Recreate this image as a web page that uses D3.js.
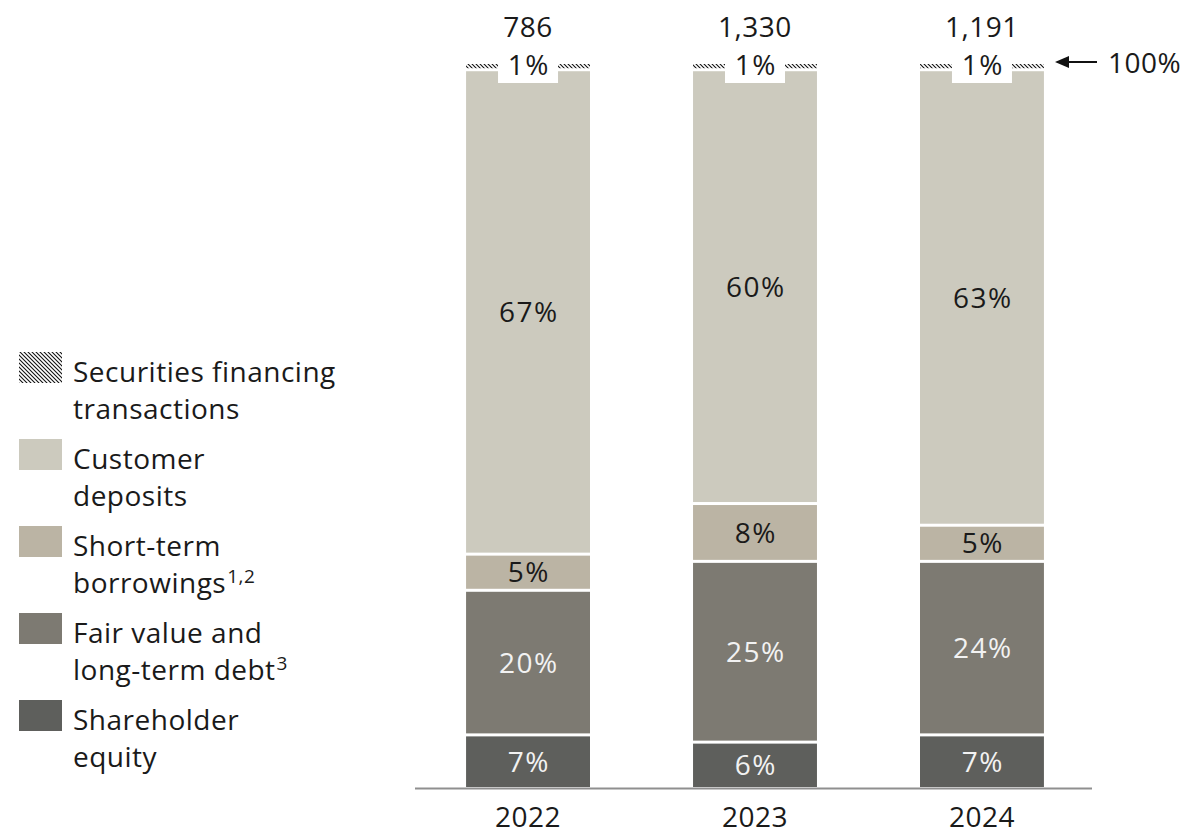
<!DOCTYPE html>
<html>
<head>
<meta charset="utf-8">
<script src="https://cdn.jsdelivr.net/npm/d3@7"></script>
<style>
  body { margin: 0; background: #fff; }
  svg { display: block; }
  text { font-family: "Open Sans", "Noto Sans", sans-serif; font-weight: 400; letter-spacing: 0.5px; }
  .pct { letter-spacing: 1.5px; }
</style>
</head>
<body>
<svg id="chart" width="1189" height="835"></svg>
<script>
// Funding sources as a share of total (%), stacked bottom to top
const years = ["2022", "2023", "2024"];
const totals = ["786", "1,330", "1,191"];
const shareholderEquity = [7, 6, 7];
const fairValueLongTermDebt = [20, 25, 24];
const shortTermBorrowings = [5, 8, 5];
const customerDeposits = [67, 60, 63];
const securitiesFinancing = [1, 1, 1];
const topMarkerLabel = "100%";

const keys = ["equity", "fairValue", "shortTerm", "deposits", "sft"];
const colors = {
  equity: "#5e5f5c",
  fairValue: "#7d7a72",
  shortTerm: "#bbb4a4",
  deposits: "#cccabe",
  sft: "url(#hatch)"
};
const labelColors = {
  equity: "#f2f2f2",
  fairValue: "#f2f2f2",
  shortTerm: "#1a1a1a",
  deposits: "#1a1a1a",
  sft: "#1a1a1a"
};

const legendItems = [
  { key: "sft", lines: ["Securities financing", "transactions"], sup: "" },
  { key: "deposits", lines: ["Customer", "deposits"], sup: "" },
  { key: "shortTerm", lines: ["Short-term", "borrowings"], sup: "1,2" },
  { key: "fairValue", lines: ["Fair value and", "long-term debt"], sup: "3" },
  { key: "equity", lines: ["Shareholder", "equity"], sup: "" }
];

const rows = years.map((year, i) => ({
  year,
  total: totals[i],
  equity: shareholderEquity[i],
  fairValue: fairValueLongTermDebt[i],
  shortTerm: shortTermBorrowings[i],
  deposits: customerDeposits[i],
  sft: securitiesFinancing[i]
}));

const svg = d3.select("#chart");
const fs = 28;
const capMid = fs * 0.36;
const gap = 3;

// Diagonal hatch for securities financing transactions
const defs = svg.append("defs");
const pat = defs.append("pattern")
  .attr("id", "hatch")
  .attr("patternUnits", "userSpaceOnUse")
  .attr("width", 4).attr("height", 4);
pat.append("rect").attr("width", 4).attr("height", 4).attr("fill", "#fff");
pat.append("path")
  .attr("d", "M-1,-1 L5,5 M-1,3 L1,5 M3,-1 L5,1")
  .attr("stroke", "#111").attr("stroke-width", 1.1);

const x = d3.scaleBand()
  .domain(years)
  .range([415, 1095])
  .paddingInner(0.454)
  .paddingOuter(0.225);

const y = d3.scaleLinear().domain([0, 100]).range([787, 64]);

const stacked = d3.stack().keys(keys)(rows);

// Bars
const layers = svg.append("g").selectAll("g")
  .data(stacked)
  .join("g")
  .attr("fill", d => colors[d.key]);

layers.selectAll("rect")
  .data(d => d.map(p => ({ key: d.key, p })))
  .join("rect")
  .attr("x", d => x(d.p.data.year))
  .attr("width", x.bandwidth())
  .attr("y", d => y(d.p[1]))
  .attr("height", d => {
    const bottom = d.p[0] === 0 ? y(d.p[0]) : y(d.p[0]) - gap;
    return Math.max(0, bottom - y(d.p[1]));
  });

// Segment value labels
stacked.forEach(layer => {
  const g = svg.append("g");
  layer.forEach(p => {
    const cx = x(p.data.year) + x.bandwidth() / 2 + 0.75;
    const val = p.data[layer.key];
    if (layer.key === "sft") {
      const cy = y(p[1]);
      g.append("rect")
        .attr("x", cx - 30.75).attr("width", 60)
        .attr("y", cy - 14).attr("height", 33)
        .attr("fill", "#fff");
      g.append("text")
        .attr("class", "pct")
        .attr("x", cx).attr("y", cy + capMid + 1)
        .attr("text-anchor", "middle")
        .attr("font-size", fs)
        .attr("fill", labelColors[layer.key])
        .text(val + "%");
    } else {
      const top = y(p[1]);
      const bottom = p[0] === 0 ? y(p[0]) : y(p[0]) - gap;
      const cy = (top + bottom) / 2;
      g.append("text")
        .attr("class", "pct")
        .attr("x", cx).attr("y", cy + capMid)
        .attr("text-anchor", "middle")
        .attr("font-size", fs)
        .attr("fill", labelColors[layer.key])
        .text(val + "%");
    }
  });
});

// Totals above each bar
svg.append("g").selectAll("text")
  .data(rows)
  .join("text")
  .attr("x", d => x(d.year) + x.bandwidth() / 2)
  .attr("y", y(100) - 37 + capMid)
  .attr("text-anchor", "middle")
  .attr("font-size", fs)
  .attr("fill", "#1a1a1a")
  .text(d => d.total);

// 100% marker arrow
const arrowY = y(100) - 2;
svg.append("line")
  .attr("x1", 1066).attr("x2", 1097)
  .attr("y1", arrowY).attr("y2", arrowY)
  .attr("stroke", "#111").attr("stroke-width", 2);
svg.append("path")
  .attr("d", `M1055,${arrowY} L1069,${arrowY - 6} L1069,${arrowY + 6} Z`)
  .attr("fill", "#111");
svg.append("text")
  .attr("x", 1108).attr("y", arrowY + capMid + 1)
  .attr("font-size", fs)
  .attr("fill", "#1a1a1a")
  .text(topMarkerLabel);

// X axis
const xAxis = svg.append("g")
  .attr("transform", `translate(0,${y(0) + 1.5})`)
  .call(d3.axisBottom(x).tickSize(0).tickPadding(19));
xAxis.select(".domain")
  .attr("d", "M415,0H1092")
  .attr("stroke", "#8f8f8f").attr("stroke-width", 2);
xAxis.selectAll("text")
  .attr("font-size", fs)
  .attr("font-family", "\"Open Sans\", \"Noto Sans\", sans-serif")
  .attr("fill", "#1a1a1a");

// Legend
const legend = svg.append("g");
legendItems.forEach((item, i) => {
  const base = 382 + i * 87;
  legend.append("rect")
    .attr("x", 19).attr("y", base - 30)
    .attr("width", 43).attr("height", 31)
    .attr("fill", colors[item.key]);
  item.lines.forEach((line, j) => {
    const t = legend.append("text")
      .attr("x", 73).attr("y", base + j * 37)
      .attr("font-size", fs)
      .attr("fill", "#1a1a1a")
      .text(line);
    if (j === item.lines.length - 1 && item.sup) {
      t.append("tspan")
        .attr("font-size", 19)
        .attr("dy", -10)
        .attr("dx", 1)
        .text(item.sup);
    }
  });
});
</script>
</body>
</html>
